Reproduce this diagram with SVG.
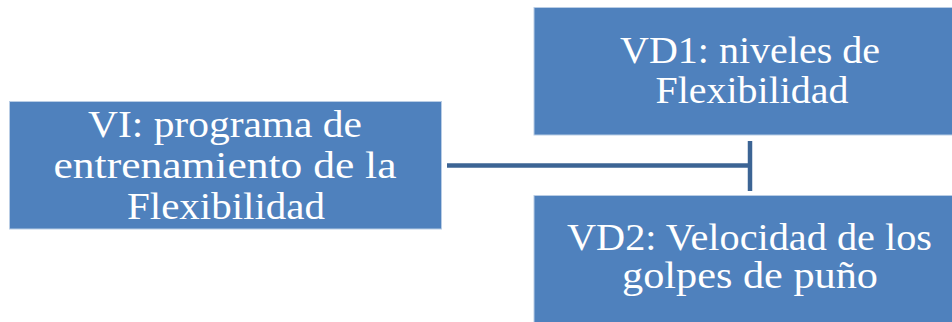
<svg xmlns="http://www.w3.org/2000/svg" width="952" height="322" viewBox="0 0 952 322">
<style>
.box{fill:#4f81bd;stroke:#b9cde5;stroke-width:1}
.t{font-family:"Liberation Serif","DejaVu Serif",serif;font-size:38px;fill:#ffffff;text-anchor:middle}
.c{stroke:#3c6494;stroke-width:4.5;fill:none}
</style>
<rect width="952" height="322" fill="#ffffff"/>
<g id="vi">
<rect class="box" x="9.5" y="101.5" width="432" height="127.5"/>
<text class="t" x="225" y="137" textLength="274" lengthAdjust="spacingAndGlyphs">VI: programa de</text>
<text class="t" x="225" y="178" textLength="343" lengthAdjust="spacingAndGlyphs">entrenamiento de la</text>
<text class="t" x="226" y="219" textLength="198" lengthAdjust="spacingAndGlyphs">Flexibilidad</text>
</g>
<g id="vd1">
<rect class="box" x="534" y="7.5" width="432" height="127.5"/>
<text class="t" x="750" y="63" textLength="260" lengthAdjust="spacingAndGlyphs">VD1: niveles de</text>
<text class="t" x="752" y="103" textLength="193" lengthAdjust="spacingAndGlyphs">Flexibilidad</text>
</g>
<g id="vd2">
<rect class="box" x="534" y="195.5" width="432" height="127.5"/>
<text class="t" x="749.5" y="250" textLength="365" lengthAdjust="spacingAndGlyphs">VD2: Velocidad de los</text>
<text class="t" x="750" y="288" textLength="256" lengthAdjust="spacingAndGlyphs">golpes de puño</text>
</g>
<g id="connectors">
<line class="c" x1="447" y1="165.5" x2="750" y2="165.5"/>
<line class="c" x1="750" y1="141" x2="750" y2="191"/>
</g>
</svg>
